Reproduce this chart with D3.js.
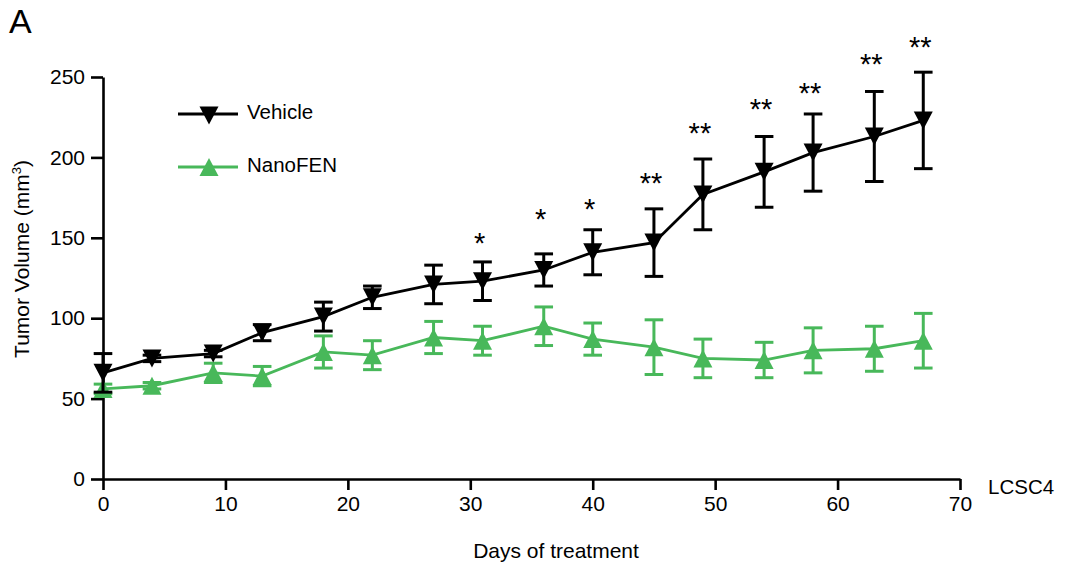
<!DOCTYPE html>
<html><head><meta charset="utf-8">
<script src="https://cdn.jsdelivr.net/npm/d3@7"></script>
<style>body{margin:0;background:#fff}svg{display:block}text{font-family:"Liberation Sans",Arial,sans-serif}</style>
</head><body><svg id="c" width="1078" height="567"></svg>
<script>
const days = [0,4,9,13,18,22,27,31,36,40,45,49,54,58,63,67];
const vehicleMean = [66,75,78,91,101,113,121,123,130,141,147,177,191,203,213,223];
const vehicleSem  = [12,2,2,5,9,7,12,12,10,14,21,22,22,24,28,30];
const nanoMean = [56,58,66,64,79,77,88,86,95,87,82,75,74,80,81,86];
const nanoSem  = [3,2,6,6,10,9,10,9,12,10,17,12,11,14,14,17];
const sigDays = [31,36,40,45,49,54,58,63,67];
const sigLabels = ["*","*","*","**","**","**","**","**","**"];
const sigAt = [151,166,172,188,219,234,244,262,273];
const xTicks = [0,10,20,30,40,50,60,70];
const yTicks = [0,50,100,150,200,250];

const svg = d3.select("#c");
const x = d3.scaleLinear().domain([0,70]).range([103,960]);
const y = d3.scaleLinear().domain([0,250]).range([479,77]);
const GREEN = "#48b85a";
const FF = "Liberation Sans, Arial, sans-serif";

// axes
const xAxis = svg.append("g").attr("transform",`translate(0,${y(0)})`)
  .call(d3.axisBottom(x).tickValues(xTicks).tickSize(11).tickPadding(6).tickSizeOuter(0));
const yAxis = svg.append("g").attr("transform",`translate(${x(0)},0)`)
  .call(d3.axisLeft(y).tickValues(yTicks).tickSize(12).tickPadding(6).tickSizeOuter(0));
[xAxis,yAxis].forEach(g=>{
  g.select(".domain").attr("stroke","#000").attr("stroke-width",2.6);
  g.selectAll(".tick line").attr("stroke","#000").attr("stroke-width",2.6);
  g.selectAll(".tick text").attr("font-size",21).attr("fill","#000").attr("font-family",FF);
});

function tri(cx, cy, up){
  const w=9.5, h=9;
  return up ? `M${cx},${cy-h}L${cx+w},${cy+h}L${cx-w},${cy+h}Z`
            : `M${cx-w},${cy-h}L${cx+w},${cy-h}L${cx},${cy+h}Z`;
}
function series(mean, sem, color, up){
  const g = svg.append("g");
  const pts = days.map((d,i)=>({d, m:mean[i], s:sem[i]}));
  g.append("path").datum(pts)
    .attr("fill","none").attr("stroke",color).attr("stroke-width",2.8)
    .attr("d", d3.line().x(p=>x(p.d)).y(p=>y(p.m)));
  const cw = 9.3;
  const eb = g.selectAll("g.eb").data(pts).join("g");
  eb.append("line").attr("x1",p=>x(p.d)).attr("x2",p=>x(p.d))
    .attr("y1",p=>y(p.m+p.s)).attr("y2",p=>y(p.m-p.s))
    .attr("stroke",color).attr("stroke-width",3);
  eb.append("line").attr("x1",p=>x(p.d)-cw).attr("x2",p=>x(p.d)+cw)
    .attr("y1",p=>y(p.m+p.s)).attr("y2",p=>y(p.m+p.s))
    .attr("stroke",color).attr("stroke-width",3);
  eb.append("line").attr("x1",p=>x(p.d)-cw).attr("x2",p=>x(p.d)+cw)
    .attr("y1",p=>y(p.m-p.s)).attr("y2",p=>y(p.m-p.s))
    .attr("stroke",color).attr("stroke-width",3);
  g.selectAll("path.mk").data(pts).join("path").attr("class","mk")
    .attr("d", p=>tri(x(p.d), y(p.m), up)).attr("fill",color);
}
series(nanoMean, nanoSem, GREEN, true);
series(vehicleMean, vehicleSem, "#000", false);

// significance
svg.append("g").selectAll("text").data(sigDays).join("text")
  .attr("x",(d)=>x(d)-3).attr("y",(d,i)=>y(sigAt[i])+16.5)
  .attr("text-anchor","middle").attr("font-size",29).attr("fill","#000")
  .text((d,i)=>sigLabels[i]);

// legend
const leg = [{name:"Vehicle",c:"#000",up:false,yy:114},{name:"NanoFEN",c:GREEN,up:true,yy:167}];
leg.forEach(l=>{
  svg.append("line").attr("x1",178).attr("x2",238).attr("y1",l.yy).attr("y2",l.yy)
    .attr("stroke",l.c).attr("stroke-width",2.8);
  svg.append("path").attr("d",tri(209,l.yy+(l.up?0:1.5),l.up)).attr("fill",l.c);
  svg.append("text").attr("x",247).attr("y",l.yy+4.5).attr("font-size",20.5).attr("fill","#000").text(l.name);
});

// labels
svg.append("text").attr("x",9).attr("y",33).attr("font-size",34).attr("fill","#000").text("A");
svg.append("text").attr("x",988).attr("y",494).attr("font-size",20.5).attr("fill","#000").text("LCSC4");
svg.append("text").attr("x",556).attr("y",558).attr("text-anchor","middle").attr("font-size",21).attr("fill","#000").text("Days of treatment");
const yl = svg.append("text").attr("transform",`translate(29,259) rotate(-90)`)
  .attr("text-anchor","middle").attr("font-size",21).attr("fill","#000");
yl.append("tspan").text("Tumor Volume (mm");
yl.append("tspan").attr("font-size",13).attr("dy",-8).text("3");
yl.append("tspan").attr("dy",8).text(")");
</script></body></html>
